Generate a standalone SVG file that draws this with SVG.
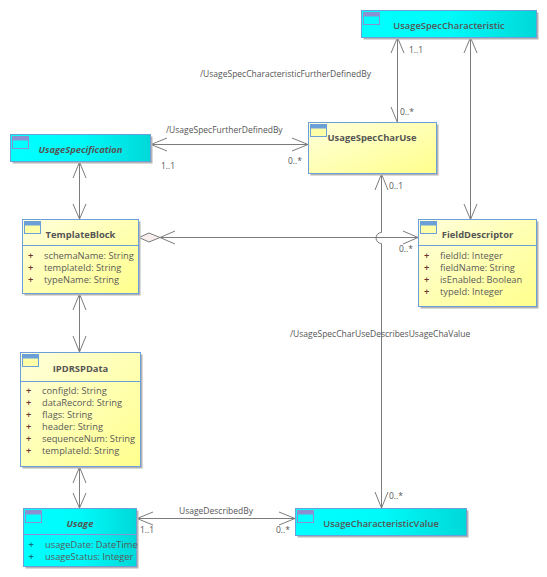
<svg xmlns="http://www.w3.org/2000/svg" width="547" height="577" viewBox="0 0 547 577">
<style>
text{font-family:"Open Sans","Noto Sans",sans-serif;font-size:9.3px;fill:#5a5a5a}
.t{font-size:9.4px;font-weight:700;text-anchor:middle;fill:#555}
.i{font-style:italic}
.a{fill:#6b3030;font-weight:600}
.c{fill:#0a6a70;font-weight:600}
.l{font-size:8.500px;fill:#555}
.s{fill:#b4b4b4}
.y{fill:url(#gy);stroke:#6a9fd8}
.b{fill:url(#gc);stroke:#6a9fd8}
.ib{fill:#ffffa8;stroke:#6a9fd8}
.ic{fill:#00ffff;stroke:#8a90d0}
.h{stroke:none;fill:#6a9fd8}
.hc{stroke:none;fill:#8a90d0}
.d{stroke:#6a9fd8;fill:none}
.dc{stroke:#8a90d0;fill:none}
#connectors path{fill:none;stroke:#7c7c7c;stroke-width:1}
</style>
<defs>
<linearGradient id="gy" x1="0" y1="0" x2="1" y2="1"><stop offset="0" stop-color="#ffffdc"/><stop offset="1" stop-color="#ffff8c"/></linearGradient>
<linearGradient id="gc" x1="0" y1="0" x2="1" y2="0"><stop offset="0" stop-color="#00ffff"/><stop offset="0.5" stop-color="#00fafa"/><stop offset="1" stop-color="#00d8d8"/></linearGradient>
</defs>
<g id="connectors">
<path d="M397.500 37.500V122.500M391 53L397.500 37.500L404 53M391 107L397.500 122.500"/>
<path d="M470.500 37.500V219.500M464 53L470.500 37.500L477 53M464 204L470.500 219.500L477 204"/>
<path d="M151 144.500H308M167 138L151 144.500L167 151M292 138L308 144.500L292 151"/>
<path d="M79.500 162V219M73 178L79.500 162L86 178M73 204L79.500 219L86 204"/>
<path d="M79.500 294V352M73 310L79.500 294L86 310M73 336L79.500 352L86 336"/>
<path d="M79.500 467V508M73 483L79.500 467L86 483M73 493L79.500 508L86 493"/>
<path d="M137 518.500H295M153 512L137 518.500L153 525M279 512L295 518.500L279 525"/>
<path d="M381.500 174V232.500A5.500 5.500 0 0 0 381.500 243.500V508M375 190L381.500 174L388 190M375 492L381.500 508L388 492"/>
<path d="M160 237.500H418M403 231L418 237.500L403 244M175 231L160 237.500L175 244"/>
<path d="M139 237.500L149 233L160 237.500L149 242Z" style="fill:#f8eeee"/>
</g>
<g id="UsageSpecCharacteristic"><rect class="s" x="363.500" y="12.500" width="175" height="27"/><rect class="b" x="361.500" y="10.500" width="175" height="27"/><rect class="ic" x="363.500" y="12.500" width="16" height="12"/><rect class="hc" x="363.500" y="12.500" width="16" height="4"/><text class="t" style="font-weight:600" x="449" y="29">UsageSpecCharacteristic</text></g>
<g id="UsageSpecCharUse"><rect class="s" x="310.500" y="124.500" width="128" height="51"/><rect class="y" x="308.500" y="122.500" width="128" height="51"/><rect class="ib" x="310.500" y="124.500" width="16" height="12"/><rect class="h" x="310.500" y="124.500" width="16" height="4"/><text class="t" x="372" y="141">UsageSpecCharUse</text></g>
<g id="UsageSpecification"><rect class="s" x="12.500" y="136.500" width="140" height="27"/><rect class="b" x="10.500" y="134.500" width="140" height="27"/><rect class="ic" x="12.500" y="136.500" width="16" height="12"/><rect class="hc" x="12.500" y="136.500" width="16" height="4"/><text class="t i" x="80.500" y="153">UsageSpecification</text></g>
<g id="TemplateBlock"><rect class="s" x="24.500" y="221.500" width="116" height="74"/><rect class="y" x="22.500" y="219.500" width="116" height="74"/><rect class="ib" x="24.500" y="221.500" width="16" height="12"/><rect class="h" x="24.500" y="221.500" width="16" height="4"/><text class="t" x="80.500" y="238">TemplateBlock</text><path class="d" d="M22.500 245.500H138.500"/><text class="a" x="28" y="259">+</text><text x="44" y="259">schemaName: String</text><text class="a" x="28" y="271">+</text><text x="44" y="271">templateId: String</text><text class="a" x="28" y="283">+</text><text x="44" y="283">typeName: String</text></g>
<g id="FieldDescriptor"><rect class="s" x="420.500" y="221.500" width="118" height="87"/><rect class="y" x="418.500" y="219.500" width="118" height="87"/><rect class="ib" x="420.500" y="221.500" width="16" height="12"/><rect class="h" x="420.500" y="221.500" width="16" height="4"/><text class="t" x="477.500" y="238">FieldDescriptor</text><path class="d" d="M418.500 245.500H536.500"/><text class="a" x="424" y="259">+</text><text x="440" y="259">fieldId: Integer</text><text class="a" x="424" y="271">+</text><text x="440" y="271">fieldName: String</text><text class="a" x="424" y="283">+</text><text x="440" y="283">isEnabled: Boolean</text><text class="a" x="424" y="295">+</text><text x="440" y="295">typeId: Integer</text></g>
<g id="IPDRSPData"><rect class="s" x="22.500" y="354.500" width="120" height="114"/><rect class="y" x="20.500" y="352.500" width="120" height="114"/><rect class="ib" x="22.500" y="354.500" width="16" height="12"/><rect class="h" x="22.500" y="354.500" width="16" height="4"/><text class="t" x="80.500" y="372">IPDRSPData</text><path class="d" d="M20.500 381.500H140.500"/><text class="a" x="26" y="394">+</text><text x="42" y="394">configId: String</text><text class="a" x="26" y="406">+</text><text x="42" y="406">dataRecord: String</text><text class="a" x="26" y="418">+</text><text x="42" y="418">flags: String</text><text class="a" x="26" y="430">+</text><text x="42" y="430">header: String</text><text class="a" x="26" y="442">+</text><text x="42" y="442">sequenceNum: String</text><text class="a" x="26" y="454">+</text><text x="42" y="454">templateId: String</text></g>
<g id="Usage"><rect class="s" x="25.500" y="510.500" width="113" height="58"/><rect class="b" x="23.500" y="508.500" width="113" height="58"/><rect class="ic" x="25.500" y="510.500" width="16" height="12"/><rect class="hc" x="25.500" y="510.500" width="16" height="4"/><text class="t i" x="80" y="527">Usage</text><path class="dc" d="M23.500 534.500H136.500"/><text class="c" x="28.500" y="548">+</text><text x="45" y="548">usageDate: DateTime</text><text class="c" x="28.500" y="560">+</text><text x="45" y="560">usageStatus: Integer</text></g>
<g id="UsageCharacteristicValue"><rect class="s" x="297.500" y="510.500" width="171" height="27"/><rect class="b" x="295.500" y="508.500" width="171" height="27"/><rect class="ic" x="297.500" y="510.500" width="16" height="12"/><rect class="hc" x="297.500" y="510.500" width="16" height="4"/><text class="t" style="font-weight:600" x="381" y="527">UsageCharacteristicValue</text></g>
<g id="labels">
<text class="l" x="200" y="77">/UsageSpecCharacteristicFurtherDefinedBy</text>
<text class="l" x="409" y="53">1..1</text>
<text class="l" x="400" y="115">0..*</text>
<text class="l" x="166" y="133">/UsageSpecFurtherDefinedBy</text>
<text class="l" x="161" y="169">1..1</text>
<text class="l" x="288" y="164">0..*</text>
<text class="l" x="389" y="189">0..1</text>
<text class="l" x="399" y="252">0..*</text>
<text class="l" x="290" y="337">/UsageSpecCharUseDescribesUsageChaValue</text>
<text class="l" x="389" y="499">0..*</text>
<text class="l" x="179" y="514">UsageDescribedBy</text>
<text class="l" x="140" y="533">1..1</text>
<text class="l" x="276" y="533">0..*</text>
</g>
</svg>
